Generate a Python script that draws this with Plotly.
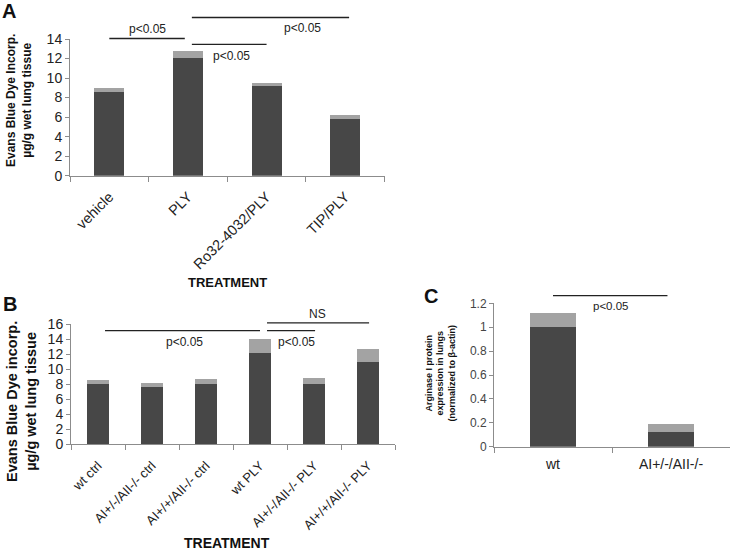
import plotly.graph_objects as go

W, H = 730, 558

# ---------------- data ----------------
a_cats = ["vehicle", "PLY", "Ro32-4032/PLY", "TIP/PLY"]
a_mean = [8.6, 12.05, 9.2, 5.85]
a_err = [0.35, 0.7, 0.25, 0.4]

b_cats = ["wt ctrl", "AI+/-/AII-/- ctrl", "AI+/+/AII-/- ctrl", "wt PLY",
          "AI+/-/AII-/- PLY", "AI+/+/AII-/- PLY"]
b_mean = [8.0, 7.65, 8.0, 12.2, 8.0, 10.9]
b_err = [0.55, 0.45, 0.75, 1.8, 0.8, 1.8]

c_cats = ["wt", "AI+/-/AII-/-"]
c_mean = [1.0, 0.12]
c_err = [0.12, 0.07]

# significance brackets: (x0, x1, y, label, label_x, label_y)
a_sig = [(0.0, 0.96, 14.05, "p<0.05", 0.49, 15.0),
         (1.05, 3.05, 16.2, "p<0.05", 2.46, 15.15),
         (1.05, 2.0, 13.45, "p<0.05", 1.56, 12.25)]
b_sig = [(0.13, 3.0, 15.15, "p<0.05", 1.61, 13.7),
         (3.13, 4.02, 15.15, "p<0.05", 3.67, 13.7),
         (3.13, 5.02, 16.2, "NS", 4.06, 17.35)]
c_sig = [(0.0, 0.97, 1.264, "p<0.05", 0.495, 1.18)]

DARK = "#474747"
LIGHT = "#a3a3a3"
AXC = "#8c8c8c"
FONT = "Liberation Sans, Arial, sans-serif"


def px_x(p):
    return p / W


def px_y(p):
    return 1 - p / H


fig = go.Figure()

panels = [
    ("x", "y", a_cats, a_mean, a_err, 0.38),
    ("x2", "y2", b_cats, b_mean, b_err, 0.40),
    ("x3", "y3", c_cats, c_mean, c_err, 0.39),
]
for xa, ya, cats, mean, err, bw in panels:
    fig.add_trace(go.Bar(x=cats, y=mean, xaxis=xa, yaxis=ya, marker_color=DARK,
                         marker_line_width=0, width=bw, showlegend=False))
    fig.add_trace(go.Bar(x=cats, y=err, xaxis=xa, yaxis=ya, marker_color=LIGHT,
                         marker_line_width=0, width=bw, showlegend=False))


def xaxis(dom, fsize, angle, anchor, standoff):
    return dict(domain=dom, showline=True, linecolor=AXC, linewidth=1,
                ticks="outside", ticklen=5, tickcolor=AXC, tickson="boundaries",
                showgrid=False, zeroline=False, tickangle=angle, anchor=anchor,
                automargin=False, ticklabelstandoff=standoff,
                tickfont=dict(family=FONT, size=fsize, color="#222"),
                fixedrange=True)


def yaxis(dom, rng, dt, fsize, anchor, color="#222"):
    return dict(domain=dom, range=rng, dtick=dt, showline=True, linecolor=AXC,
                linewidth=1, ticks="outside", ticklen=4, tickcolor=AXC,
                showgrid=False, zeroline=False, anchor=anchor, automargin=False,
                tickfont=dict(family=FONT, size=fsize, color=color),
                fixedrange=True)


fig.update_layout(
    width=W, height=H, margin=dict(l=0, r=0, t=0, b=0, pad=0, autoexpand=False),
    paper_bgcolor="white", plot_bgcolor="white", barmode="stack",
    showlegend=False,
    xaxis=xaxis([px_x(70), px_x(384.5)], 14.5, -45, "y", 6),
    yaxis=yaxis([px_y(175.7), px_y(39)], [0, 14], 2, 14, "x"),
    xaxis2=xaxis([px_x(71), px_x(395)], 13, -45, "y2", 8),
    yaxis2=yaxis([px_y(444), px_y(324.3)], [0, 16], 2, 14, "x2"),
    xaxis3=xaxis([px_x(494), 1.0], 14, 0, "y3", 4),
    yaxis3=yaxis([px_y(446.7), px_y(303.3)], [0, 1.2], 0.2, 12, "x3", "#444"),
)

shapes = []
annots = []
for (xr, yr, ymax, sigs, fs) in [("x", "y", 14, a_sig, 12),
                                 ("x2", "y2", 16, b_sig, 12),
                                 ("x3", "y3", 1.2, c_sig, 11.5)]:
    for x0, x1, yv, lab, lx, ly in sigs:
        shapes.append(dict(type="line", xref=xr, yref=yr + " domain",
                           x0=x0, x1=x1, y0=yv / ymax, y1=yv / ymax,
                           line=dict(color="#222", width=1.3)))
        annots.append(dict(xref=xr, yref=yr + " domain", x=lx, y=ly / ymax,
                           text=lab, showarrow=False, xanchor="center",
                           yanchor="middle",
                           font=dict(family=FONT, size=fs, color="#222")))

# axis titles and panel letters
annots += [
    dict(xref="paper", yref="paper", x=px_x(19), y=px_y(101),
         text="<b>Evans Blue Dye Incorp.<br>µg/g wet lung tissue</b>",
         textangle=-90, showarrow=False, xanchor="center", yanchor="middle",
         font=dict(family=FONT, size=12, color="#111")),
    dict(xref="paper", yref="paper", x=px_x(21), y=px_y(402),
         text="<b>Evans Blue Dye incorp.<br>µg/g wet lung tissue</b>",
         textangle=-90, showarrow=False, xanchor="center", yanchor="middle",
         font=dict(family=FONT, size=14.5, color="#111")),
    dict(xref="paper", yref="paper", x=px_x(439.5), y=px_y(373),
         text="<b>Arginase I protein<br>expression in lungs<br>(normalized to β-actin)</b>",
         textangle=-90, showarrow=False, xanchor="center", yanchor="middle",
         font=dict(family=FONT, size=9, color="#111")),
    dict(xref="paper", yref="paper", x=px_x(227), y=px_y(282),
         text="<b>TREATMENT</b>", showarrow=False, xanchor="center",
         yanchor="middle", font=dict(family=FONT, size=13, color="#111")),
    dict(xref="paper", yref="paper", x=px_x(227), y=px_y(543),
         text="<b>TREATMENT</b>", showarrow=False, xanchor="center",
         yanchor="middle", font=dict(family=FONT, size=14, color="#111")),
    dict(xref="paper", yref="paper", x=px_x(9), y=px_y(11),
         text="<b>A</b>", showarrow=False, xanchor="center",
         yanchor="middle", font=dict(family=FONT, size=20, color="#111")),
    dict(xref="paper", yref="paper", x=px_x(10), y=px_y(304),
         text="<b>B</b>", showarrow=False, xanchor="center",
         yanchor="middle", font=dict(family=FONT, size=20, color="#111")),
    dict(xref="paper", yref="paper", x=px_x(431), y=px_y(296),
         text="<b>C</b>", showarrow=False, xanchor="center",
         yanchor="middle", font=dict(family=FONT, size=20, color="#111")),
]

fig.update_layout(shapes=shapes, annotations=annots)
fig.write_html("out.html", config={"displayModeBar": False},
               post_script="document.body.style.margin='0px';"
                           "document.body.style.padding='0px';"
                           "document.body.style.overflow='hidden';")
